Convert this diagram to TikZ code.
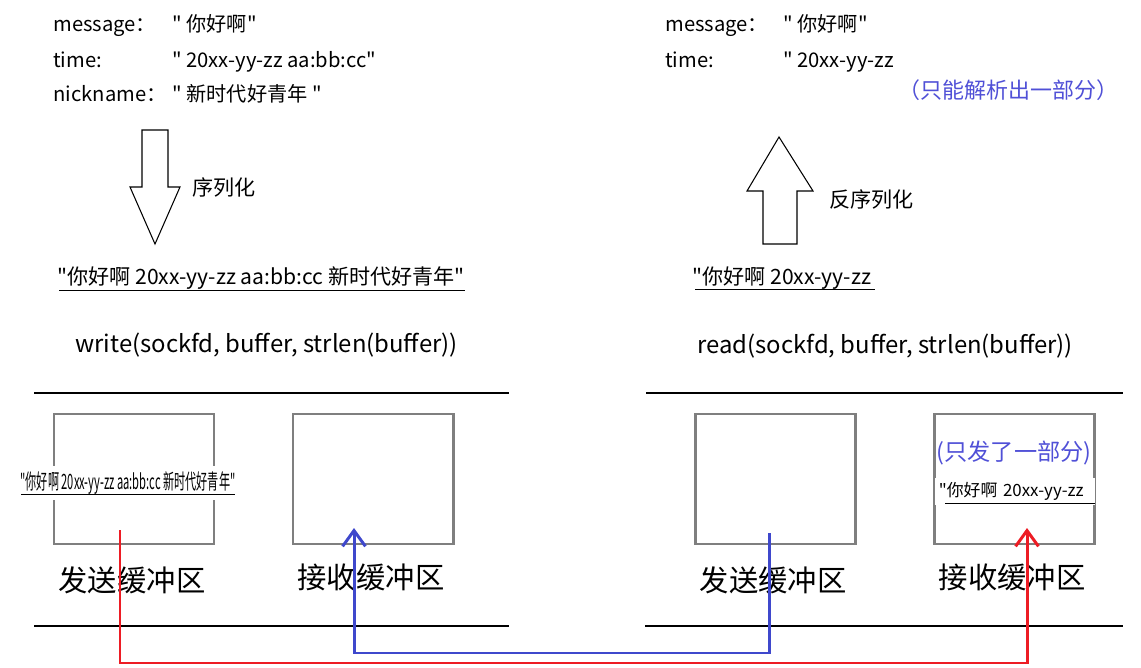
\documentclass[tikz,border=0pt]{standalone}
\usepackage{fontspec}
\usepackage{graphicx}
\newfontfamily\yahei{Noto Sans CJK SC}
\usetikzlibrary{arrows.meta}

\definecolor{pipered}{RGB}{237,28,36}
\definecolor{pipeblue}{RGB}{63,72,204}
\definecolor{noteblue}{RGB}{80,80,215}
\definecolor{bufgray}{RGB}{127,127,127}

\tikzset{
  pipe/.style={line width=1.7pt, -{Straight Barb[length=9pt,width=13pt]}},
  bufbox/.style={draw=bufgray, line width=1.7pt},
  fatarrow/.style={draw=black, line width=0.6pt, fill=white},
}

\begin{document}
\begin{tikzpicture}[x=0.02cm,y=-0.02cm]
  \useasboundingbox[fill=white] (0,0) rectangle (1141,668);

  % fields before / after
  \begin{scope}[every node/.style={anchor=base west, inner sep=0pt, font=\yahei\fontsize{11.5}{14}\selectfont}]
    \node (lm)  at (53,32)   {message：};
    \node (lmv) at (172,32)  {" 你好啊"};
    \node (lt)  at (53,68)   {time:};
    \node (ltv) at (172,68)  {" 20xx-yy-zz aa:bb:cc"};
    \node (ln)  at (53,102)  {nickname：};
    \node (lnv) at (172,102) {" 新时代好青年 "};
    \node (rm)  at (665,32)  {message：};
    \node (rmv) at (783,32)  {" 你好啊"};
    \node (rt)  at (665,68)  {time:};
    \node (rtv) at (783,68)  {" 20xx-yy-zz};
  \end{scope}
  \node[anchor=west, inner sep=0pt, text=noteblue, font=\yahei\fontsize{12.5}{14}\selectfont]
    (part1) at (898,90) {（只能解析出一部分）};

  % (de)serialize arrows
  \draw[fatarrow] (142,130) -- (168,130) -- (168,187) -- (180,187) -- (155,244)
    -- (130,187) -- (142,187) -- cycle;
  \draw[fatarrow] (763,244) -- (797,244) -- (797,191) -- (813,191) -- (779,137)
    -- (747,191) -- (763,191) -- cycle;
  \begin{scope}[every node/.style={anchor=west, inner sep=0pt, font=\yahei\fontsize{12}{14}\selectfont}]
    \node (ser)   at (192,187) {序列化};
    \node (deser) at (829,199) {反序列化};
  \end{scope}

  % serialized strings
  \begin{scope}[every node/.style={anchor=base west, inner sep=0pt, font=\yahei\fontsize{12}{14}\selectfont}]
    \node (str1) at (57,285)  {"你好啊 20xx-yy-zz aa:bb:cc 新时代好青年"};
    \node (str2) at (692,285) {"你好啊 20xx-yy-zz};
  \end{scope}
  \draw (59,290) -- (str1.east |- 0,290);
  \draw (695,289) -- ([xshift=2pt]str2.east |- 0,289);

  % system calls
  \begin{scope}[every node/.style={anchor=base west, inner sep=0pt, font=\yahei\fontsize{13.6}{16}\selectfont}]
    \node (wr) at (75,353)  {write(sockfd, buffer, strlen(buffer))};
    \node (rd) at (697,354) {read(sockfd, buffer, strlen(buffer))};
  \end{scope}

  % kernel layer
  \begin{scope}[line width=1.7pt]
    \draw (34,393) -- (509,393);
    \draw (34,626) -- (509,626);
    \draw (646,393) -- (1123,393);
    \draw (645,626) -- (1123,626);
  \end{scope}

  % buffers
  \draw[bufbox] (54,414) rectangle (214,544);
  \draw[bufbox] (293,414) rectangle (453,544);
  \draw[bufbox] (695,414) rectangle (855,544);
  \draw[bufbox] (934,414) rectangle (1094,544);

  \begin{scope}[every node/.style={inner sep=0pt, font=\yahei\fontsize{16.7}{20}\selectfont}]
    \node (sb1) at (132,580)  {发送缓冲区};
    \node (rb1) at (371,577)  {接收缓冲区};
    \node (sb2) at (773,580)  {发送缓冲区};
    \node (rb2) at (1012,577) {接收缓冲区};
  \end{scope}

  % data inside buffers
  \node[fill=white, inner xsep=1pt, inner ysep=3pt, font=\yahei\fontsize{12}{14}\selectfont]
    (buf1) at (128,483) {\resizebox{4.3cm}{\height}{"你好啊 20xx-yy-zz aa:bb:cc 新时代好青年"}};
  \draw (21,494) -- (235,494);
  \node[anchor=west, fill=white, inner xsep=0.07cm, inner ysep=0pt, minimum height=0.54cm,
    text width=3.06cm, align=left, font=\yahei\fontsize{9.6}{12}\selectfont]
    (buf2) at (935,491) {"你好啊 20xx-yy-zz};
  \draw (945,503) -- (1095,503);
  \node[text=noteblue, inner sep=0pt, font=\yahei\fontsize{13.2}{16}\selectfont] (part2) at (1014,453) {(只发了一部分)};

  % data path
  \coordinate (a1) at (120,530);
  \coordinate (a2) at (1027,663);
  \coordinate (a3) at (1027,528);
  \coordinate (b1) at (769,533);
  \coordinate (b2) at (354,653);
  \coordinate (b3) at (354,528);
  \draw[pipe, pipeblue] (b1) |- (b2) -- (b3);
  \draw[pipe, pipered] (a1) |- (a2) -- (a3);

\end{tikzpicture}
\end{document}
